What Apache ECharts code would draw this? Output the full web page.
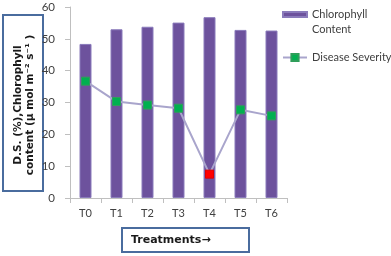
<!DOCTYPE html>
<html>
<head>
<meta charset="utf-8">
<script src="https://cdn.jsdelivr.net/npm/echarts@6/dist/echarts.min.js"></script>
<style>
  html, body { margin: 0; padding: 0; background: #fff; }
  #chart { width: 391px; height: 256px; }
</style>
</head>
<body>
<div id="chart"></div>
<script>
// 处理编号
const treatments = ['T0', 'T1', 'T2', 'T3', 'T4', 'T5', 'T6'];
// 叶绿素含量（柱）
const chlorophyll = [48.4, 53.0, 53.8, 55.1, 56.8, 52.8, 52.6];
// 病情严重度（折线）
const severity = [36.7, 30.3, 29.2, 28.2, 7.5, 27.7, 25.8];
// T4 单独标红
const highlightIndex = 4;

const yTitle = 'D.S. (%),Chlorophyll\ncontent (μ mol m⁻² s⁻¹ )';
const xTitle = 'Treatments→';

const boxColor = '#4a6c9e';
const axisColor = '#bfbfbf';

const chart = echarts.init(document.getElementById('chart'));

const option = {
  animation: false,
  grid: { left: 70, right: 104, top: 7, bottom: 58, containLabel: false },
  legend: [
    {
      // 首行留空，让“Chlorophyll”与色块对齐
      left: 282,
      top: -8,
      padding: 0,
      orient: 'vertical',
      itemWidth: 24,
      itemHeight: 5,
      data: [{ name: 'Chlorophyll Content', icon: 'rect' }],
      formatter: () => ' \nChlorophyll\nContent',
      textStyle: {
        fontFamily: 'Lato', fontSize: 11, color: '#404040', lineHeight: 15
      }
    },
    {
      left: 282,
      top: 52,
      padding: 0,
      itemWidth: 24,
      itemHeight: 9,
      data: ['Disease Severity'],
      textStyle: { fontFamily: 'Lato', fontSize: 11, color: '#404040' }
    }
  ],
  xAxis: {
    type: 'category',
    data: treatments,
    boundaryGap: true,
    axisLine: { lineStyle: { color: axisColor, width: 1 } },
    axisTick: { show: true, length: 5, lineStyle: { color: axisColor } },
    axisLabel: { margin: 10, fontFamily: 'Lato', fontSize: 11, color: '#404040' }
  },
  yAxis: {
    type: 'value',
    min: 0,
    max: 60,
    interval: 10,
    axisLine: { show: true, lineStyle: { color: axisColor, width: 1 } },
    axisTick: { show: true, length: 5, lineStyle: { color: axisColor } },
    splitLine: { show: false },
    axisLabel: { margin: 15, fontFamily: 'Lato', fontSize: 11.5, color: '#404040' }
  },
  series: [
    {
      name: 'Chlorophyll Content',
      type: 'bar',
      data: chlorophyll,
      barWidth: 12,
      itemStyle: { color: '#6d529d', borderColor: '#8a7bbb', borderWidth: 1 }
    },
    {
      name: 'Disease Severity',
      type: 'line',
      data: severity.map((v, i) => i === highlightIndex
        ? { value: v, itemStyle: { color: '#ff0000', borderColor: '#e00000' } }
        : v),
      symbol: 'rect',
      symbolSize: 8,
      lineStyle: { color: '#a9a5cc', width: 2 },
      itemStyle: { color: '#00b050', borderColor: '#2f9e5a', borderWidth: 1 },
      z: 3
    }
  ],
  graphic: [
    {
      type: 'rect',
      shape: { x: 3, y: 15, width: 40, height: 176 },
      style: { fill: '#fff', stroke: boxColor, lineWidth: 2 }
    },
    {
      type: 'text',
      x: 24,
      y: 105,
      rotation: Math.PI / 2,
      style: {
        text: yTitle,
        fontFamily: 'DejaVu Sans',
        fontWeight: 'bold',
        fontSize: 10.5,
        lineHeight: 12,
        fill: '#1a1a1a',
        align: 'center',
        verticalAlign: 'middle'
      }
    },
    {
      type: 'rect',
      shape: { x: 122, y: 228, width: 127, height: 24 },
      style: { fill: '#fff', stroke: boxColor, lineWidth: 2 }
    },
    {
      type: 'text',
      x: 131,
      y: 240,
      style: {
        text: xTitle,
        fontFamily: 'DejaVu Sans',
        fontWeight: 'bold',
        fontSize: 11,
        fill: '#1a1a1a',
        align: 'left',
        verticalAlign: 'middle'
      }
    }
  ]
};

chart.setOption(option);
</script>
</body>
</html>
